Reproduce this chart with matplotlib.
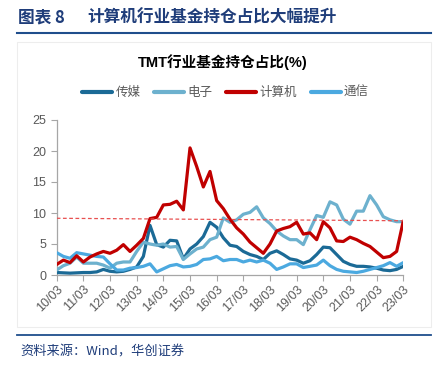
import matplotlib
matplotlib.use("Agg")
import matplotlib.pyplot as plt
from matplotlib.lines import Line2D
from matplotlib.patches import Rectangle

plt.rcParams['font.family'] = ['Liberation Sans', 'Noto Sans CJK SC', 'DejaVu Sans']

# quarterly points, 2010Q1 .. 2023Q1
quarters = list(range(53))
tick_pos = list(range(0, 53, 4))
tick_labels = ['%02d/03' % y for y in range(10, 24)]

media = [0.4, 0.35, 0.3, 0.35, 0.4, 0.4, 0.5, 0.9, 0.6, 0.5,
         0.6, 0.9, 1.3, 3.0, 8.0, 4.9, 4.5, 5.6, 5.5, 2.6,
         4.2, 5.0, 6.2, 8.5, 7.7, 6.0, 4.8, 4.6, 3.8, 3.3,
         3.0, 2.5, 3.5, 3.9, 3.3, 2.6, 2.4, 1.9, 2.3, 3.3,
         4.5, 4.4, 3.3, 2.2, 1.7, 1.4, 1.4, 1.3, 1.1, 0.8,
         0.7, 0.9, 1.4]
electronics = [0.8, 1.5, 1.9, 2.9, 1.9, 1.9, 1.9, 1.6, 1.1, 1.9,
               2.1, 2.1, 3.8, 5.3, 5.0, 4.8, 5.0, 4.5, 4.6, 2.5,
               3.4, 4.2, 4.5, 5.7, 6.1, 9.2, 8.5, 8.9, 9.8, 10.1,
               11.0, 9.2, 8.3, 7.1, 6.3, 5.7, 5.7, 4.9, 7.3, 9.6,
               9.3, 11.8, 11.3, 9.0, 8.2, 10.3, 10.3, 12.8, 11.3, 9.4,
               8.9, 8.6, 8.6]
computer = [1.7, 2.4, 2.0, 3.1, 2.1, 2.9, 3.4, 3.8, 3.5, 4.0,
            4.9, 3.8, 4.8, 5.9, 9.1, 9.3, 11.3, 11.4, 11.9, 10.5,
            20.5, 17.5, 14.2, 16.7, 12.0, 10.7, 9.0, 7.6, 6.6, 5.3,
            4.4, 3.5, 5.0, 7.1, 7.5, 7.8, 8.5, 6.6, 6.8, 5.7,
            8.6, 7.6, 5.5, 5.4, 6.1, 5.7, 5.1, 4.6, 3.7, 2.8,
            3.0, 3.8, 8.7]
telecom = [3.6, 3.0, 2.7, 3.6, 3.4, 3.2, 3.0, 2.9, 1.8, 0.8,
           0.8, 1.1, 1.2, 1.4, 1.8, 0.5, 1.0, 1.5, 1.7, 1.3,
           1.4, 1.7, 2.5, 2.6, 3.0, 2.3, 2.5, 2.5, 2.1, 2.4,
           2.1, 2.4, 1.9, 0.9, 1.3, 1.8, 1.8, 1.2, 1.4, 1.6,
           2.4, 1.5, 0.9, 0.6, 0.5, 0.4, 0.6, 0.9, 1.2, 1.5,
           2.0, 1.4, 2.0]
ref_x = [0, 52]
ref_y = [9.15, 8.75]

names = ['传媒', '电子', '计算机', '通信']
colors = ['#1B6A96', '#6DB1CE', '#C00000', '#4BA9E0']

fig = plt.figure(figsize=(4.45, 3.66), dpi=100)

# page header and footer
cjk = ['Noto Sans CJK SC', 'DejaVu Sans']
fig.text(18 / 445, 1 - 18 / 366, '图表 8', fontsize=12, fontweight='bold',
         color='#1F3D7A', va='center', ha='left', family=cjk)
fig.text(87 / 445, 1 - 18 / 366, '计算机行业基金持仓占比大幅提升',
         fontsize=12, fontweight='bold', color='#1F3D7A', va='center', ha='left',
         family=cjk)
fig.add_artist(Line2D([17 / 445, 431 / 445], [1 - 32.5 / 366, 1 - 32.5 / 366],
                      color='#1F4E8C', lw=1.5))
fig.add_artist(Line2D([17 / 445, 431 / 445], [1 - 335 / 366, 1 - 335 / 366],
                      color='#1F4E8C', lw=1.3))
fig.text(20 / 445, 1 - 352 / 366, '资料来源：Wind，华创证券', fontsize=9.5,
         color='#1F3D7A', va='center', ha='left', style='italic', family=cjk)

# faint chart-area frame
fig.add_artist(Rectangle((17 / 445, 1 - 327 / 366), 414 / 445, 285 / 366,
                         fill=False, ec='#EDEDED', lw=0.8))

fig.text(223 / 445, 1 - 62 / 366, 'TMT行业基金持仓占比(%)', fontsize=10.5,
         fontweight='bold', color='#000000', ha='center', va='center')

ax = fig.add_axes([56.7 / 445, 1 - 275 / 366, 346.6 / 445, 155 / 366])

series = [media, electronics, computer, telecom]
handles = []
for s, name, c in zip(series, names, colors):
    z = 4 if name == '计算机' else 3
    h, = ax.plot(quarters, s, color=c, lw=2.3, label=name, zorder=z,
                 solid_joinstyle='round', solid_capstyle='round')
    handles.append(h)

ax.plot(ref_x, ref_y, color='#E85050', lw=0.9, ls=(0, (3, 2)), zorder=5)

ax.set_xlim(0, 52)
ax.set_ylim(0, 25)
ax.set_yticks([0, 5, 10, 15, 20, 25])
ax.set_xticks(tick_pos)
ax.set_xticklabels(tick_labels, rotation=45, ha='right', va='top',
                   rotation_mode='anchor')
ax.tick_params(axis='both', colors='#A6A6A6', labelcolor='#595959',
               labelsize=9, length=4, width=0.8, direction='out')
ax.tick_params(axis='x', pad=2)
for side in ['top', 'right']:
    ax.spines[side].set_visible(False)
for side in ['left', 'bottom']:
    ax.spines[side].set_color('#A6A6A6')
    ax.spines[side].set_linewidth(0.9)

leg = fig.legend(handles=handles, loc='center', ncol=4,
                 bbox_to_anchor=(225.5 / 445, 1 - 92.7 / 366), frameon=False,
                 handlelength=2.4, handletextpad=0.25, columnspacing=1.1,
                 prop={'family': ['Noto Sans CJK SC'], 'size': 9})
for t in leg.get_texts():
    t.set_color('#595959')
for l in leg.get_lines():
    l.set_linewidth(3)

fig.savefig('out.png', dpi=100)
